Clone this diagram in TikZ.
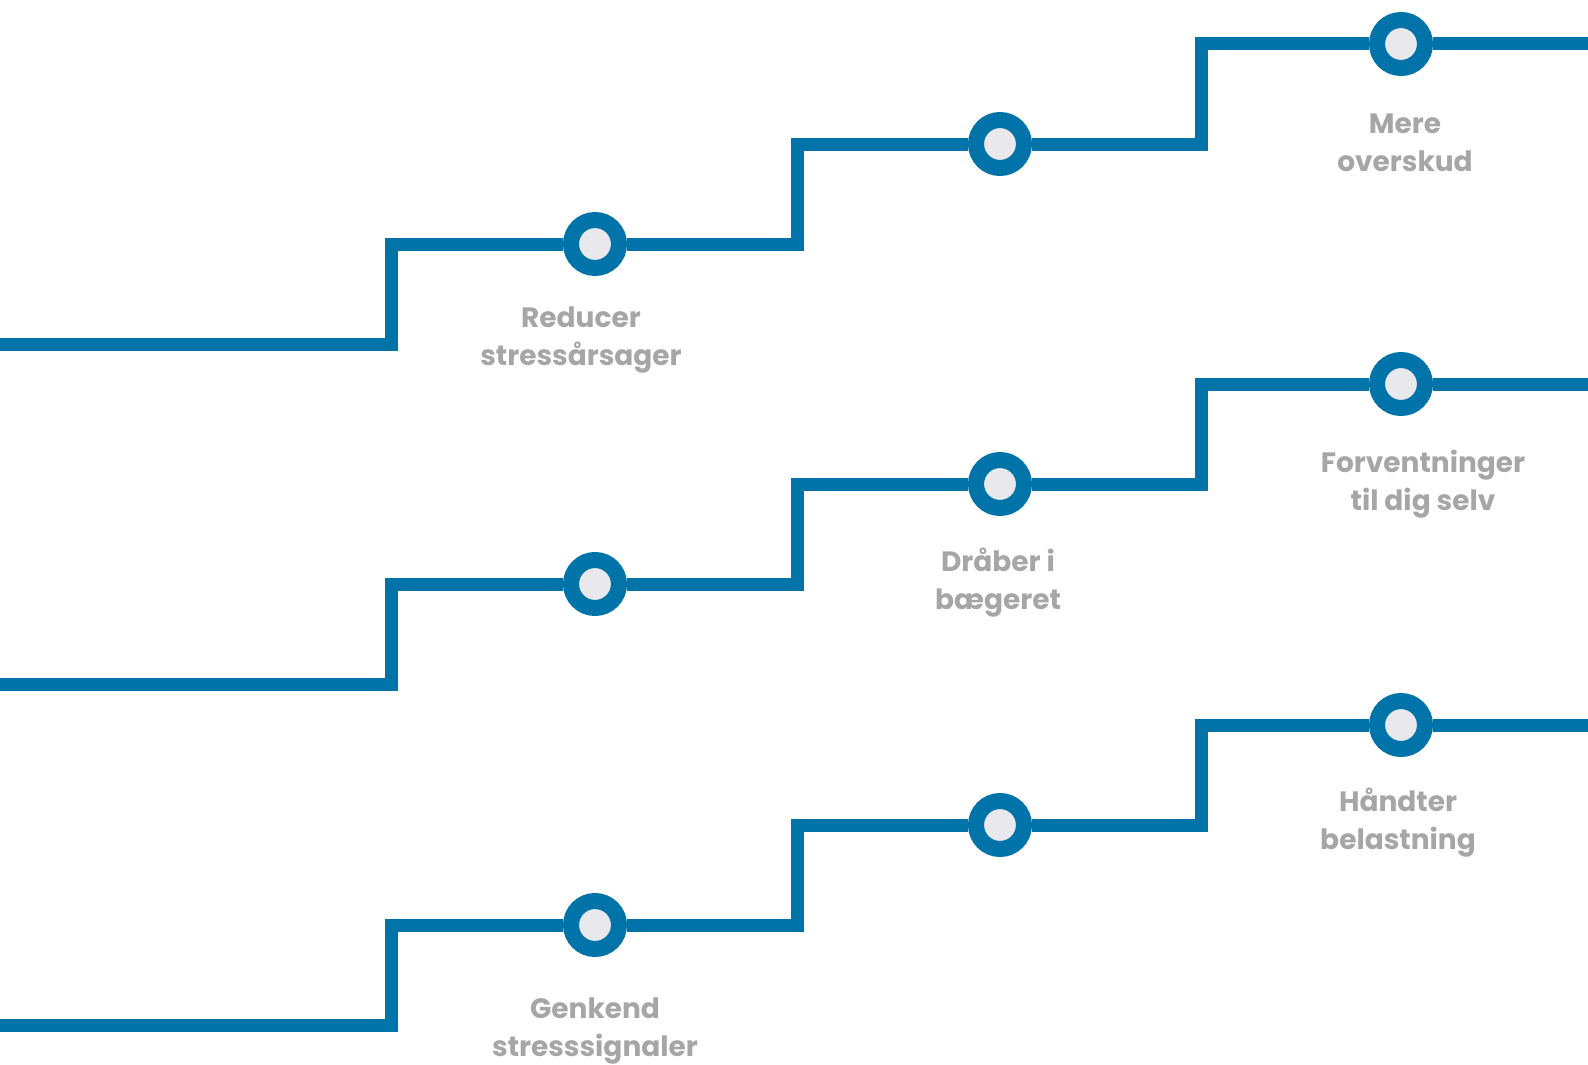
\documentclass[tikz,border=0pt]{standalone}
\usepackage{fontspec}
\setmainfont{Poppins}
\usepackage{xcolor}
\usetikzlibrary{positioning, backgrounds}

\definecolor{trackblue}{RGB}{0,115,168}
\definecolor{dotfill}{RGB}{233,232,236}
\definecolor{labelgray}{RGB}{166,166,168}

\begin{document}
\begin{tikzpicture}[x = 1pt, y = -1pt,
	track/.style = {draw = trackblue, line width = 13pt},
	milestone/.style = {circle, draw = trackblue, fill = dotfill, line width = 16pt, minimum size = 48pt, inner sep = 0pt},
	caption/.style = {text = labelgray, font = \fontsize{28}{38}\selectfont\bfseries, align = center}]

	\useasboundingbox (0,0) rectangle (1588,1065);

	\foreach \t/\yy in {1/344, 2/684, 3/1025}
	{
		\coordinate (start\t) at (0,\yy);
		\coordinate (riseA\t) at (391,\yy);
		\node[milestone] (dotA\t) at (595,\yy-100) {};
		\coordinate (riseB\t) at (797,\yy-100);
		\node[milestone] (dotB\t) at (1000,\yy-200) {};
		\coordinate (riseC\t) at (1201,\yy-200);
		\node[milestone] (dotC\t) at (1401,\yy-300) {};
		\coordinate (end\t) at (1588,\yy-300);

		\begin{scope}[on background layer]
			\draw[track] (start\t) -- (riseA\t) |- (dotA\t);
			\draw[track] (dotA\t) -- (riseB\t) |- (dotB\t);
			\draw[track] (dotB\t) -- (riseC\t) |- (dotC\t);
			\draw[track] (dotC\t) -- (end\t);
		\end{scope}
	}

	\node[caption] (reducer) at (581,340) {Reducer\\stressårsager};
	\node[caption] (mere) at (1405,143) {Mere\\overskud};
	\node[caption] (draaber) at (998,583) {Dråber i\\bægeret};
	\node[caption] (forventninger) at (1423,484) {Forventninger\\til dig selv};
	\node[caption] (genkend) at (595,1031) {Genkend\\stresssignaler};
	\node[caption] (haandter) at (1398,823) {Håndter\\belastning};
\end{tikzpicture}
\end{document}
